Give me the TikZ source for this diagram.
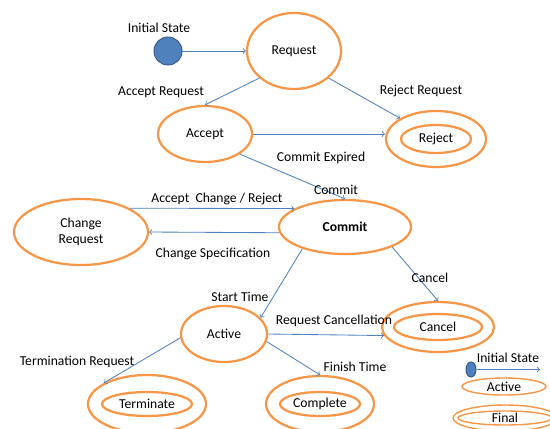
\documentclass[tikz,border=0pt]{standalone}
\usepackage{fontspec}
\setmainfont{Carlito}
\usetikzlibrary{shapes.geometric}

\definecolor{stateorange}{HTML}{F79646}
\definecolor{linkblue}{HTML}{4F81BD}
\definecolor{dotborder}{HTML}{385D8A}

\tikzset{
  state/.style={ellipse, draw=stateorange, line width=1.6pt, inner sep=0pt},
  keystate/.style={ellipse, draw=stateorange, line width=1pt, inner sep=0pt},
  link/.style={->, draw=linkblue, line width=0.6pt},
  lbl/.style={inner sep=0pt, yshift=-1pt}
}

\begin{document}
\begin{tikzpicture}[font=\fontsize{9.7}{11.5}\selectfont]
\useasboundingbox (0,0) rectangle (13.75,10.7);

% Start of the machine
\node[circle, fill=linkblue, draw=dotborder, line width=0.7pt, minimum size=0.7cm, inner sep=0pt] (init) at (4.2, 9.425) {};
\node[lbl] (init label) at (3.975, 10.05) {Initial State};
\node[state, minimum width=2.35cm, minimum height=1.9cm] (request) at (7.35, 9.425) {Request};
\node[state, minimum width=2.35cm, minimum height=1.4cm] (accept) at (5.125, 7.35) {Accept};

% Final states are drawn twice
\node[state, minimum width=2.5cm, minimum height=1.4cm] (reject) at (10.9, 7.225) {};
\node[state, minimum width=1.75cm, minimum height=0.7cm] (reject in) at (10.9, 7.225) {Reject};

\node[state, minimum width=3.3cm, minimum height=1.35cm] (commit) at (8.625, 5.025) {\textbf{Commit}};
\node[state, minimum width=3.35cm, minimum height=1.65cm, align=center] (change) at (2.025, 4.9) {Change\\Request};
\node[state, minimum width=2.15cm, minimum height=1.4cm] (active) at (5.6, 2.35) {Active};

\node[state, minimum width=2.8cm, minimum height=1.25cm] (cancel) at (10.95, 2.525) {};
\node[state, minimum width=2.2cm, minimum height=0.65cm] (cancel in) at (10.95, 2.525) {Cancel};
\node[state, minimum width=2.95cm, minimum height=1.45cm] (terminate) at (3.675, 0.6) {};
\node[state, minimum width=2.25cm, minimum height=0.6cm] (terminate in) at (3.675, 0.6) {Terminate};
\node[state, minimum width=2.7cm, minimum height=1.4cm] (complete) at (8.0, 0.6) {};
\node[state, minimum width=2.0cm, minimum height=0.6cm] (complete in) at (8.0, 0.6) {Complete};

% Transitions
\draw[link] (init) -- (request.west);
\draw[link] (request.218) -- (accept.north);
\draw[link] (request.-38) -- (reject.150);
\draw[link] (accept.east) -- (accept.east -| reject.west);
\draw[link] (accept.-30) -- (commit.north);
\draw[link] (change.26) -- (commit.160);
\draw[link] (commit.185) -- (change.east);
\draw[link] (commit.207) -- (active.24);
\draw[link] (commit.-23) -- (cancel.north);
\draw[link] (active.east) -- (cancel.189);
\draw[link] (active.-10) -- (complete.north);
\draw[link] (active.185) -- (terminate.154);

% Transition labels
\node[lbl] (l accept) at (4.025, 8.425) {Accept Request};
\node[lbl] (l reject) at (10.525, 8.45) {Reject Request};
\node[lbl] (l expired) at (8.025, 6.8) {Commit Expired};
\node[lbl] (l commit) at (8.4, 6.0) {Commit};
\node[lbl] (l change) at (5.425, 5.75) {Accept\ \ Change / Reject};
\node[lbl] (l spec) at (5.325, 4.375) {Change Specification};
\node[lbl] (l start) at (6.0, 3.325) {Start Time};
\node[lbl] (l cancel) at (10.75, 3.8) {Cancel};
\node[lbl] (l reqcancel) at (8.35, 2.725) {Request Cancellation};
\node[lbl] (l finish) at (8.875, 1.575) {Finish Time};
\node[lbl] (l terminate) at (1.925, 1.7) {Termination Request};

% Key
\node[ellipse, fill=linkblue, draw=dotborder, line width=0.7pt, minimum width=0.25cm, minimum height=0.375cm, inner sep=0pt] (key init) at (11.775, 1.4625) {};
\coordinate (key end) at (13.5, 1.4625);
\draw[link] (key init) -- (key end);
\node[lbl] (key init label) at (12.7, 1.8) {Initial State};
\node[keystate, minimum width=2.1cm, minimum height=0.425cm] (key active) at (12.6, 1.0375) {Active};
\node[keystate, minimum width=2.6cm, minimum height=0.65cm] (key final) at (12.625, 0.25) {};
\node[keystate, minimum width=2.35cm, minimum height=0.35cm] (key final in) at (12.625, 0.25) {Final};
\end{tikzpicture}
\end{document}
